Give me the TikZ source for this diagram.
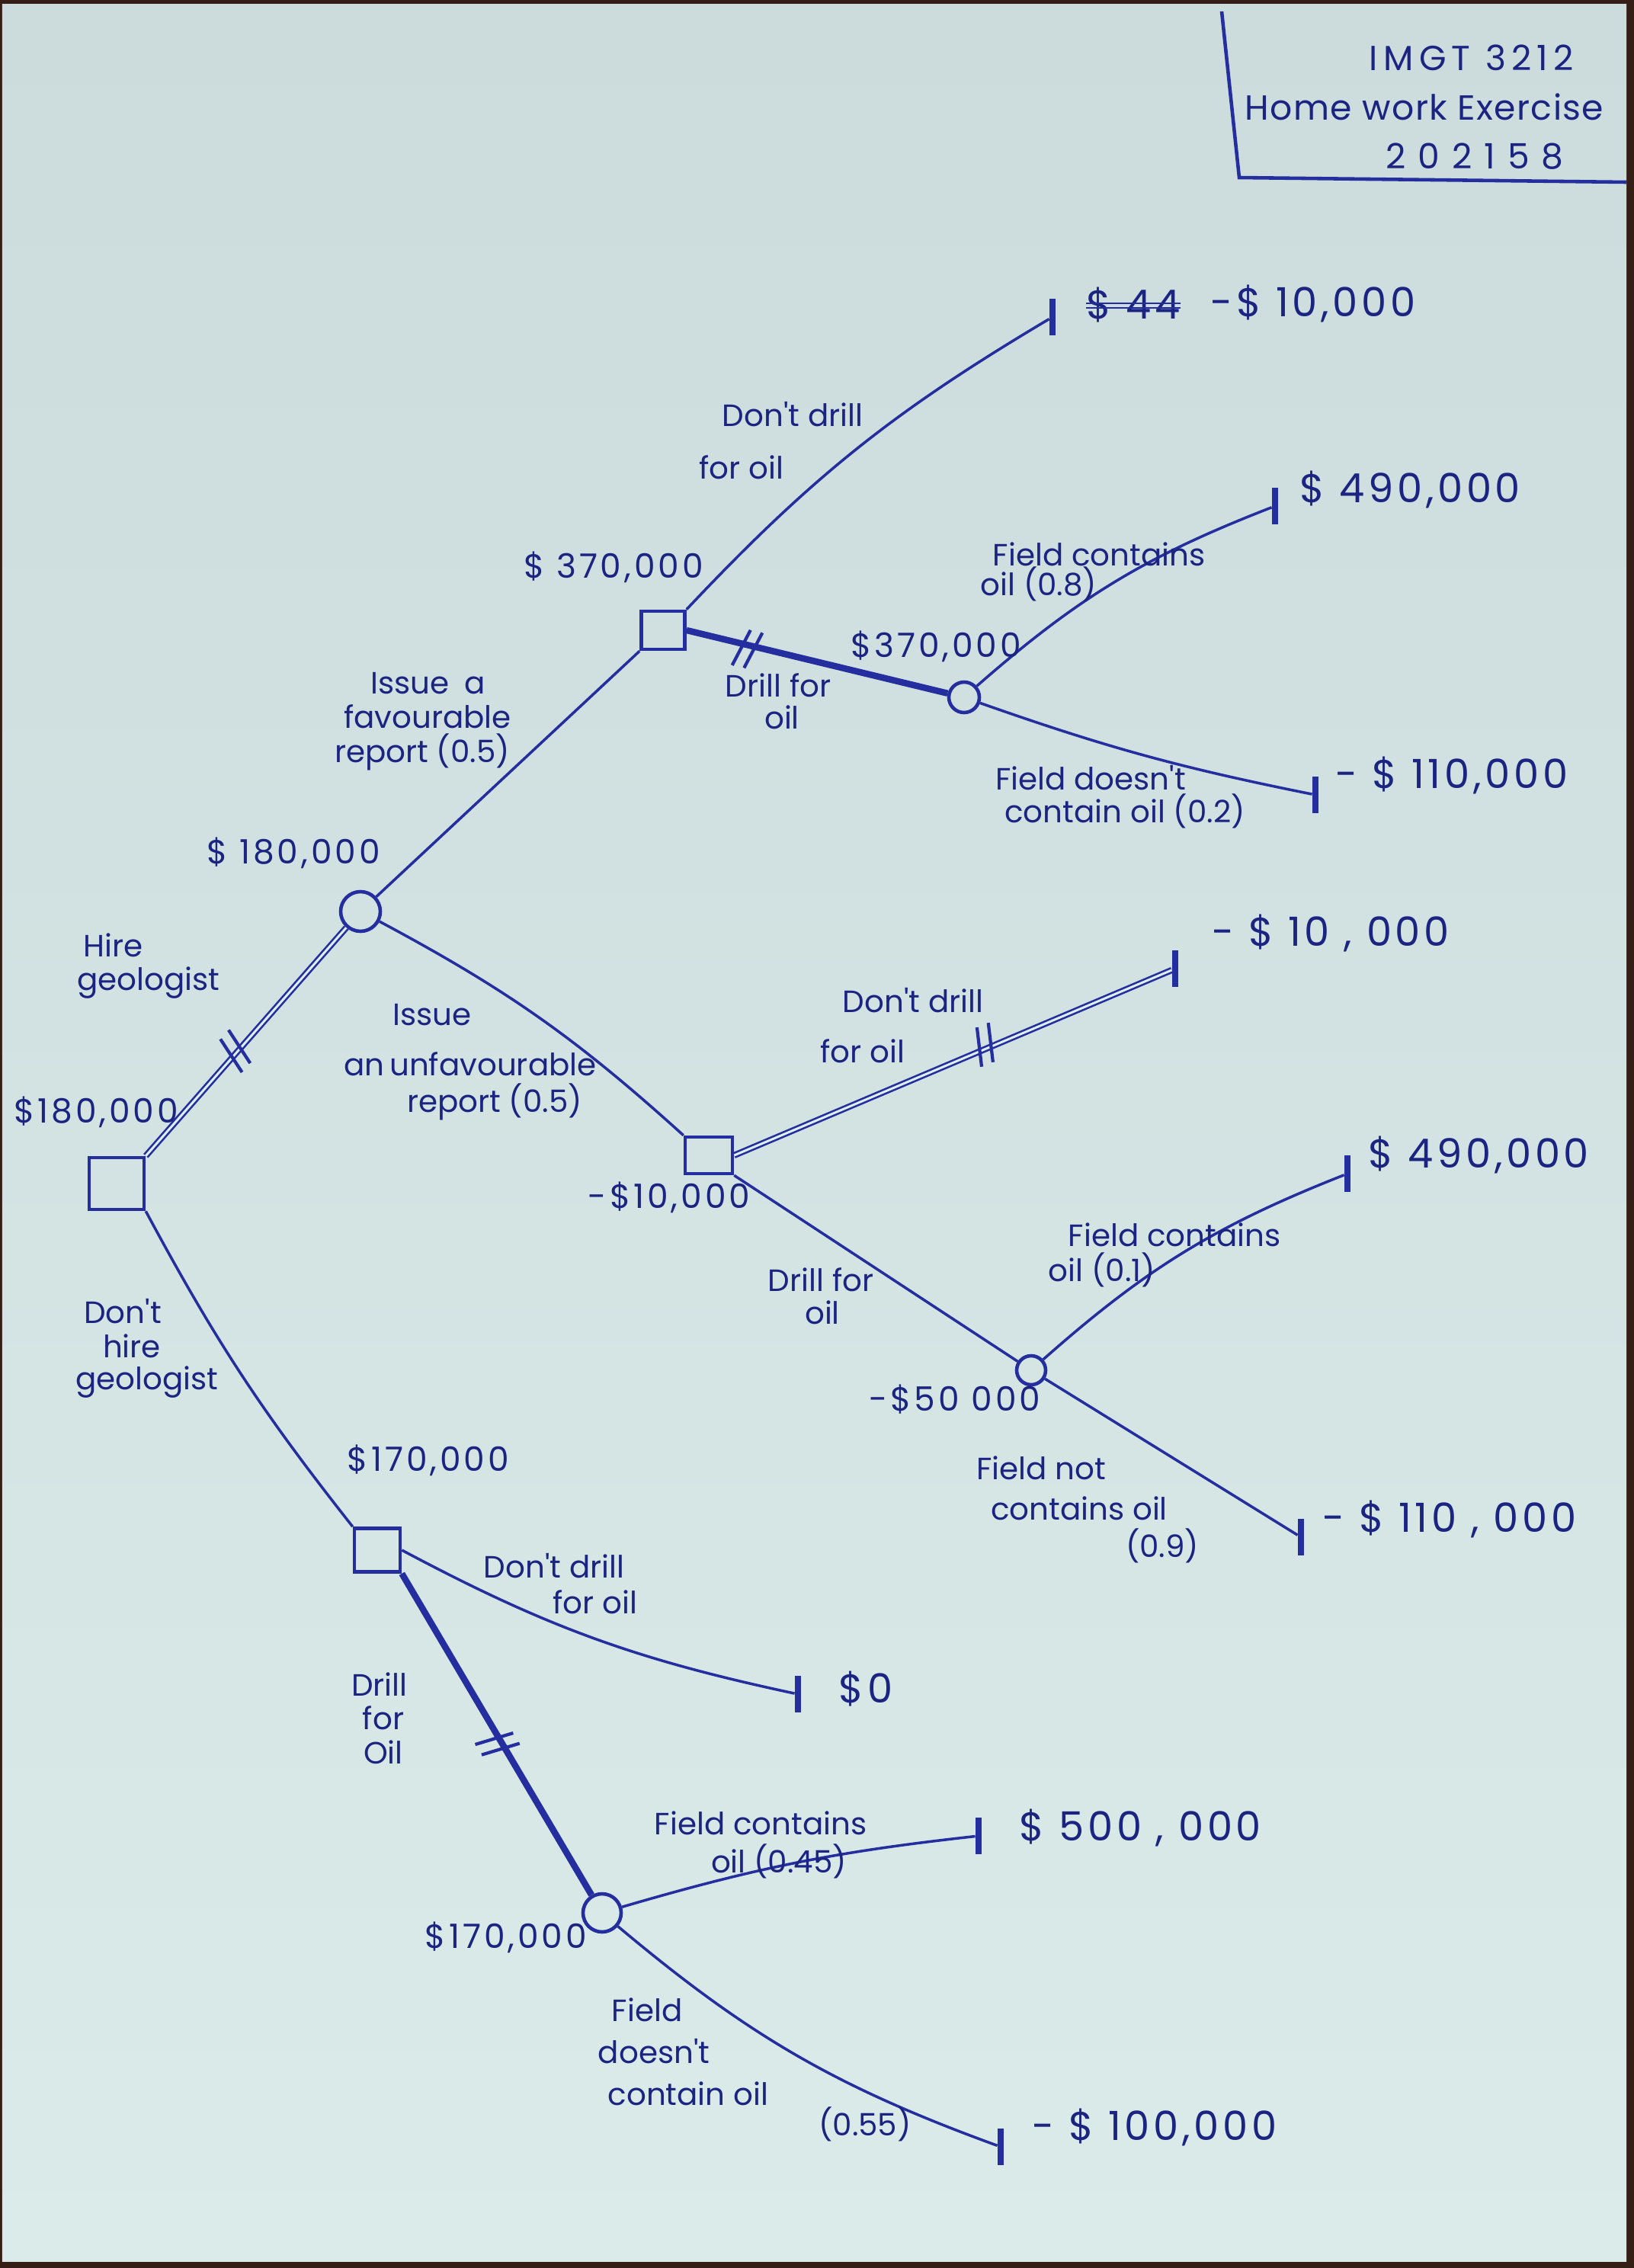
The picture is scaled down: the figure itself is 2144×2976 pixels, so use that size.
\documentclass[tikz,border=0pt]{standalone}
\usepackage{fontspec}
\setmainfont{Poppins}
\newfontfamily\hand{Poppins}
\newfontfamily\handv[LetterSpace=9]{Poppins}
\usetikzlibrary{calc}
\definecolor{ink}{RGB}{28,36,130}
\definecolor{pen}{RGB}{36,46,158}
\definecolor{paperTop}{RGB}{204,219,220}
\definecolor{paperMid}{RGB}{222,239,240}
\definecolor{paperBot}{RGB}{218,235,233}
\definecolor{edge}{RGB}{52,30,22}

% two short strokes across a branch: from, to, fraction along it
\newcommand\hashmark[3]{%
  \path ($(#1)!#3!(#2)$) coordinate (hm1) ($(hm1)!1.6mm!(#2)$) coordinate (hm2);
  \draw[tickmark] ($(hm1)!2.6mm!75:(#2)$) -- ($(hm1)!2.6mm!-105:(#2)$);
  \draw[tickmark] ($(hm2)!2.6mm!75:(#2)$) -- ($(hm2)!2.6mm!-105:(#2)$);}

\begin{document}
\begin{tikzpicture}[x=0.1mm,y=-0.1mm,
  decbox/.style={draw=pen, line width=1.3pt, inner sep=0},
  chance/.style={circle, draw=pen, line width=1.3pt, inner sep=0},
  endbar/.style={fill=pen, inner sep=0, minimum width=0.75mm, minimum height=4.8mm},
  branch/.style={draw=pen, line width=1pt},
  chosen/.style={draw=pen, line width=2.4pt},
  twin/.style={draw=pen, line width=0.75pt, double=paperMid, double distance=0.3mm},
  tickmark/.style={draw=pen, line width=1.2pt},
  lbl/.style={text=ink, font=\hand\fontsize{11.5}{13}\selectfont, inner sep=0},
  ev/.style={text=ink, font=\handv\fontsize{12.5}{14}\selectfont, inner sep=0},
  val/.style={text=ink, font=\handv\fontsize{15}{17}\selectfont, inner sep=0, anchor=west},
  head/.style={text=ink, font=\hand\fontsize{13}{15}\selectfont, inner sep=0},
]
% sheet of paper
\useasboundingbox (0,0) rectangle (2144,2976);
\fill[edge] (0,0) rectangle (2144,2976);
\shade[top color=paperTop, middle color=paperMid, bottom color=paperBot] (3,5) rectangle (2134,2967);

% title block
\draw[pen, line width=1.3pt] (1603,15) -- (1626,233) -- (2134,239);
\node[head] (course) at (1931,76) {\addfontfeature{LetterSpace=16}IMGT 3212};
\node[head] (hw) at (1869,140) {\addfontfeature{LetterSpace=3}Home work Exercise};
\node[head] (sid) at (1935,205) {\addfontfeature{LetterSpace=35}202158};

% decision and chance nodes
\node[decbox, minimum width=7.2mm, minimum height=6.8mm] (root) at (153,1553) {};
\node[chance, minimum size=5.2mm] (hc) at (473,1196) {};
\node[decbox, minimum width=5.7mm, minimum height=5mm] (fav) at (870,827) {};
\node[chance, minimum size=4mm] (fc) at (1265,915) {};
\node[decbox, minimum width=6.2mm, minimum height=4.8mm] (unf) at (930,1516) {};
\node[chance, minimum size=3.8mm] (uc) at (1353,1798) {};
\node[decbox, minimum width=6mm, minimum height=5.7mm] (nh) at (495,2034) {};
\node[chance, minimum size=5mm] (nc) at (790,2510) {};

% end points
\node[endbar] (t1) at (1381,416) {};
\node[endbar] (t2) at (1673,664) {};
\node[endbar] (t3) at (1726,1043) {};
\node[endbar] (t4) at (1542,1271) {};
\node[endbar] (t5) at (1768,1540) {};
\node[endbar] (t6) at (1707,2017) {};
\node[endbar] (t7) at (1047,2223) {};
\node[endbar] (t8) at (1284,2409) {};
\node[endbar] (t9) at (1313,2817) {};

% branches
\draw[twin] (root.north east) -- (hc);
\draw[branch] (hc) -- (fav.south west);
\draw[branch] (fav.north east) to[bend left=8] (t1);
\draw[chosen] (fav.east) -- (fc);
\draw[branch] (fc) to[bend left=10] (t2);
\draw[branch] (fc) to[bend right=4] (t3);
\draw[branch] (hc) to[bend left=7] (unf.north west);
\draw[twin] (unf.east) -- (t4);
\draw[branch] (unf.south east) -- (uc);
\draw[branch] (uc) to[bend left=10] (t5);
\draw[branch] (uc) -- (t6);
\draw[branch] (root.south east) to[bend right=5] (nh.north west);
\draw[branch] (nh.east) to[bend right=8] (t7);
\draw[chosen] (nh.south east) -- (nc);
\draw[branch] (nc) to[bend left=5] (t8);
\draw[branch] (nc) to[bend right=10] (t9);

% marks on the pruned branches
\hashmark{root}{hc}{0.47}
\hashmark{fav}{fc}{0.26}
\hashmark{unf}{t4}{0.58}
\hashmark{nh}{nc}{0.52}

% pay-offs
\node[val] (old) at (1425,400) {\$ 44};
\draw[pen, line width=0.7pt] ([yshift=0.2mm]old.west) -- ([yshift=0.2mm]old.east);
\draw[pen, line width=0.7pt] ([yshift=-0.4mm]old.west) -- ([yshift=-0.4mm]old.east);
\node[val] (v1) at (1588,398) {-\$ 10,000};
\node[val] (v2) at (1705,642) {\$ 490,000};
\node[val] (v3) at (1752,1017) {- \$ 110,000};
\node[val] (v4) at (1590,1224) {- \$ 10 , 000};
\node[val] (v5) at (1795,1515) {\$ 490,000};
\node[val] (v6) at (1735,1993) {- \$ 110 , 000};
\node[val] (v7) at (1100,2216) {\$0};
\node[val] (v8) at (1337,2398) {\$ 500 , 000};
\node[val] (v9) at (1354,2791) {- \$ 100,000};

% expected values
\node[ev] (e1) at (805,744) {\$ 370,000};
\node[ev] (e2) at (1228,848) {\$370,000};
\node[ev] (e3) at (385,1119) {\$ 180,000};
\node[ev] (e4) at (126,1459) {\$180,000};
\node[ev] (e5) at (878,1571) {-\$10,000};
\node[ev] (e6) at (1253,1836) {-\$50 000};
\node[ev] (e7) at (562,1916) {\$170,000};
\node[ev] (e8) at (664,2542) {\$170,000};

% branch labels
\node[lbl] (a1) at (1040,544) {Don't drill};
\node[lbl] (a2) at (973,613) {for oil};
\node[lbl] (b1) at (1021,899) {Drill for};
\node[lbl] (b2) at (1026,941) {oil};
\node[lbl] (c1) at (1442,727) {Field contains};
\node[lbl] (c2) at (1363,766) {oil (0.8)};
\node[lbl] (d1) at (1431,1021) {Field doesn't};
\node[lbl] (d2) at (1476,1064) {contain oil (0.2)};
\node[lbl] (f1) at (562,897) {Issue\enspace a};
\node[lbl] (f2) at (561,940) {favourable};
\node[lbl] (f3) at (554,987) {report (0.5)};
\node[lbl] (g1) at (149,1240) {Hire};
\node[lbl] (g2) at (195,1290) {geologist};
\node[lbl] (u1) at (567,1332) {Issue};
\node[lbl] (u2) at (617,1396) {an\,unfavourable};
\node[lbl] (u3) at (649,1446) {report (0.5)};
\node[lbl] (k1) at (1198,1313) {Don't drill};
\node[lbl] (k2) at (1132,1379) {for oil};
\node[lbl] (m1) at (1077,1679) {Drill for};
\node[lbl] (m2) at (1079,1722) {oil};
\node[lbl] (p1) at (1541,1620) {Field contains};
\node[lbl] (p2) at (1446,1666) {oil (0.1)};
\node[lbl] (q1) at (1366,1926) {Field not};
\node[lbl] (q2) at (1416,1979) {contains oil};
\node[lbl] (q3) at (1525,2028) {(0.9)};
\node[lbl] (h1) at (161,1721) {Don't};
\node[lbl] (h2) at (173,1766) {hire};
\node[lbl] (h3) at (193,1814) {geologist};
\node[lbl] (n1) at (727,2055) {Don't drill};
\node[lbl] (n2) at (781,2102) {for oil};
\node[lbl] (r1) at (498,2210) {Drill};
\node[lbl] (r2) at (503,2254) {for};
\node[lbl] (r3) at (503,2299) {Oil};
\node[lbl] (s1) at (998,2392) {Field contains};
\node[lbl] (s2) at (1022,2442) {oil (0.45)};
\node[lbl] (w1) at (849,2637) {Field};
\node[lbl] (w2) at (858,2692) {doesn't};
\node[lbl] (w3) at (903,2747) {contain oil};
\node[lbl] (w4) at (1135,2787) {(0.55)};
\end{tikzpicture}
\end{document}
